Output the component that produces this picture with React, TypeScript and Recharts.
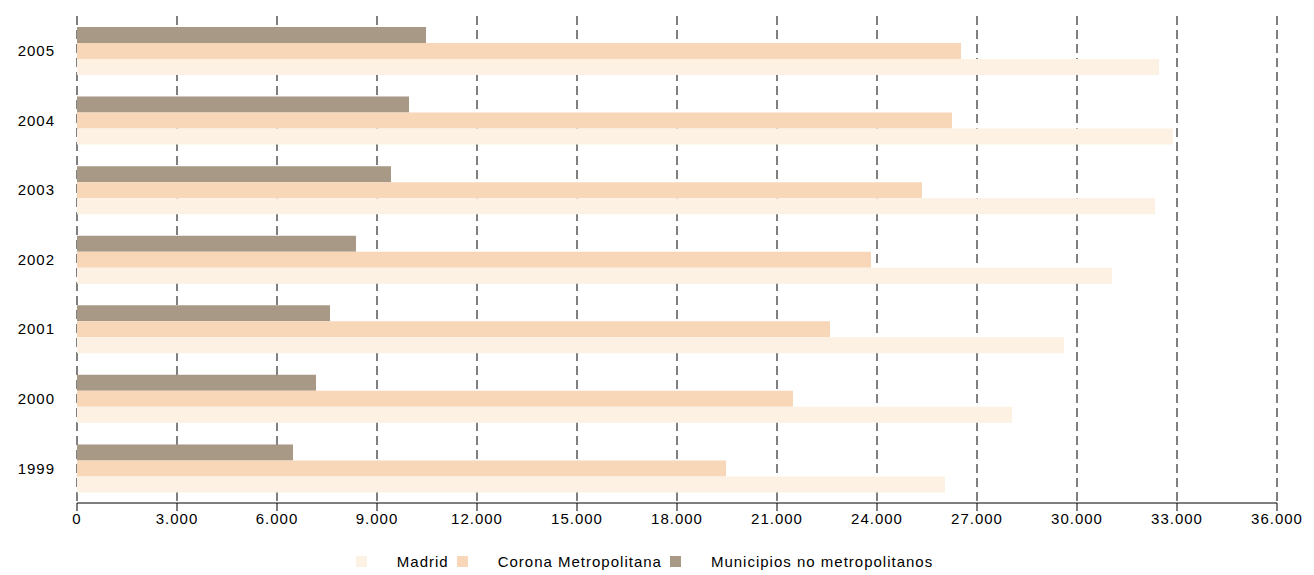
import React from "react";
import { BarChart, Bar, XAxis, YAxis, CartesianGrid, Legend } from "recharts";

const years = ["2005", "2004", "2003", "2002", "2001", "2000", "1999"];
const madrid = [32460, 32880, 32340, 31050, 29610, 28050, 26040];
const corona = [26520, 26250, 25350, 23820, 22590, 21480, 19470];
const municipios = [10470, 9960, 9420, 8370, 7590, 7170, 6480];
const ticks = [0, 3000, 6000, 9000, 12000, 15000, 18000, 21000, 24000, 27000, 30000, 33000, 36000];

const data = years.map((y, i) => ({
  year: y,
  madrid: madrid[i],
  corona: corona[i],
  municipios: municipios[i],
}));

const series = [
  { key: "madrid", name: "Madrid", color: "#FCF1E2" },
  { key: "corona", name: "Corona Metropolitana", color: "#F8D6B8" },
  { key: "municipios", name: "Municipios no metropolitanos", color: "#A89886" },
];

const fmt = (v: number) => (v === 0 ? "0" : v.toLocaleString("de-DE"));

const LegendContent = () => (
  <div style={{ display: "flex", justifyContent: "center", fontSize: 15, letterSpacing: 1, paddingTop: 10, paddingLeft: 20 }}>
    {series.map((s) => (
      <span key={s.key} style={{ display: "flex", alignItems: "center", marginRight: 8 }}>
        <span style={{ width: 11, height: 11, background: s.color, display: "inline-block", marginRight: 30 }} />
        {s.name}
      </span>
    ))}
  </div>
);

const tickStyle = { fill: "#000", fontSize: 15, letterSpacing: 1 };

export default function App() {
  return (
    <div style={{ position: "absolute", left: 0, top: 0, fontFamily: "Liberation Sans, Arial, sans-serif" }}>
      <BarChart
        width={1314}
        height={575}
        data={data}
        layout="vertical"
        margin={{ top: 16, right: 37, left: 0, bottom: 0 }}
        barGap={0}
        barSize={16}
      >
        <CartesianGrid horizontal={false} stroke="#000" strokeOpacity={1} strokeDasharray="9 5" />
        <XAxis
          type="number"
          domain={[0, 36000]}
          ticks={ticks}
          tickFormatter={fmt}
          stroke="#000"
          tick={tickStyle}
          tickSize={8}
          height={40}
        />
        <YAxis
          type="category"
          dataKey="year"
          width={77}
          axisLine={false}
          tickLine={false}
          tick={tickStyle}
          tickMargin={16}
        />
        <Legend content={<LegendContent />} verticalAlign="bottom" height={32} />
        <Bar dataKey="municipios" fill="#A89886" isAnimationActive={false} />
        <Bar dataKey="corona" fill="#F8D6B8" isAnimationActive={false} />
        <Bar dataKey="madrid" fill="#FCF1E2" isAnimationActive={false} />
      </BarChart>
    </div>
  );
}
